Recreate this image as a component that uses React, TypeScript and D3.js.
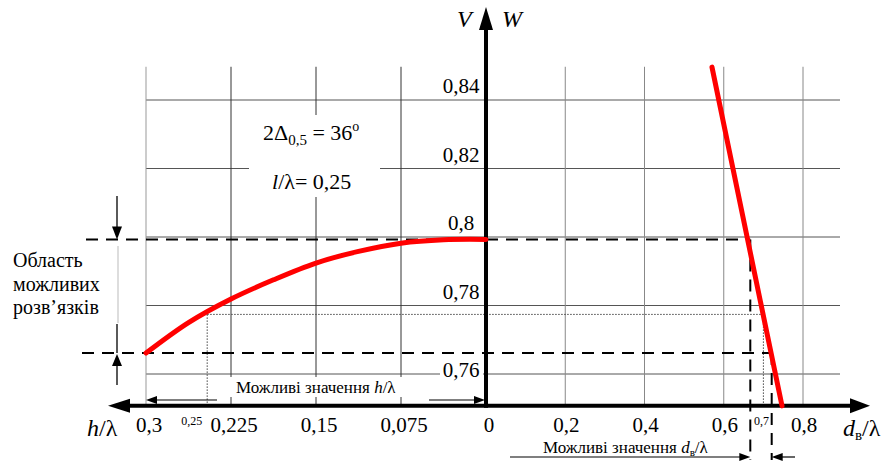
import React from "react";
import * as d3 from "d3";

// ---- data ----
const hTicks = [0.3, 0.225, 0.15, 0.075, 0];
const hTickLabels = ["0,3", "0,225", "0,15", "0,075", "0"];
const dTicks = [0.2, 0.4, 0.6, 0.8];
const dTickLabels = ["0,2", "0,4", "0,6", "0,8"];
const vTicks = [0.76, 0.78, 0.8, 0.82, 0.84];
const vTickLabels = ["0,76", "0,78", "0,8", "0,82", "0,84"];

// V(h/λ) curve
const curveH = [0, 0.0375, 0.075, 0.1125, 0.15, 0.1875, 0.225, 0.2625, 0.3];
const curveV = [0.7993, 0.7992, 0.7982, 0.7958, 0.7924, 0.7875, 0.7819, 0.775, 0.7661];

// W(dв/λ) line
const lineD = [0.5703, 0.747];
const lineW = [0.8496, 0.7507];

// markers
const vMax = 0.7993;
const vMin = 0.7661;
const dAtMax = 0.667;
const dAtMin = 0.721;
const hMark = 0.246;
const vMark = 0.7774;
const dMark = 0.7;
const axisValue = 0.7507;
const gridTopValue = 0.8497;

const FONT = "Liberation Serif, Tinos, Times New Roman, DejaVu Serif, serif";

export default function App() {
  const W = 882;
  const H = 463;
  const y = d3.scaleLinear().domain([0.76, 0.84]).range([374, 100]);
  const xh = d3.scaleLinear().domain([0, 0.3]).range([486, 146]);
  const xd = d3.scaleLinear().domain([0, 0.8]).range([486, 803]);

  const axisY = y(axisValue);
  const gridTop = y(gridTopValue);
  const x0 = xh(0);
  const gridRight = 840;

  const curvePts: [number, number][] = curveH.map((h, i) => [xh(h), y(curveV[i])]);
  const curvePath = d3.line().curve(d3.curveCatmullRom)(curvePts) || "";
  const wPts: [number, number][] = lineD.map((d, i) => [xd(d), y(lineW[i])]);
  const wPath = d3.line()(wPts) || "";

  const yMax = y(vMax);
  const yMin = y(vMin);
  const yMark = y(vMark);
  const xUp = xd(dAtMax);
  const xLo = xd(dAtMin);
  const xhMark = xh(hMark);
  const xdMark = xd(dMark);

  const dash = "12,8";
  const dot = "1.5,1.5";

  const tri = (tx: number, ty: number, dir: string, len: number, half: number) => {
    let p = "";
    if (dir === "left") p = `M${tx},${ty} L${tx + len},${ty - half} L${tx + len},${ty + half} Z`;
    if (dir === "right") p = `M${tx},${ty} L${tx - len},${ty - half} L${tx - len},${ty + half} Z`;
    if (dir === "up") p = `M${tx},${ty} L${tx - half},${ty + len} L${tx + half},${ty + len} Z`;
    if (dir === "down") p = `M${tx},${ty} L${tx - half},${ty - len} L${tx + half},${ty - len} Z`;
    return <path d={p} fill="#000" />;
  };

  const ts: React.CSSProperties = { fontFamily: FONT };

  return (
    <svg
      width={W}
      height={H}
      viewBox={`0 0 ${W} ${H}`}
      style={{ position: "absolute", left: 0, top: 0, background: "#fff", fontFamily: FONT }}
    >
      <rect x={0} y={0} width={W} height={H} fill="#fff" />

      {/* horizontal grid */}
      {vTicks.map((v) => (
        <line key={"hg" + v} x1={xh(0.3)} x2={gridRight} y1={y(v)} y2={y(v)} stroke="#555" strokeWidth={1} />
      ))}
      {/* vertical grid left */}
      {hTicks.filter((h) => h > 0).map((h) => (
        <line
          key={"vgl" + h}
          x1={xh(h)}
          x2={xh(h)}
          y1={gridTop}
          y2={axisY}
          stroke={h === 0.3 ? "#999" : "#333"}
          strokeWidth={1}
        />
      ))}
      {/* vertical grid right */}
      {dTicks.map((d) => (
        <line key={"vgr" + d} x1={xd(d)} x2={xd(d)} y1={gridTop} y2={axisY} stroke="#888" strokeWidth={1} />
      ))}

      {/* white box behind formula */}
      <rect x={249} y={115} width={131} height={82} fill="#fff" />
      <text x={263} y={140} fontSize={22} style={ts}>
        2Δ<tspan fontSize={15} dy={5}>0,5</tspan>
        <tspan dy={-5}> = 36</tspan>
        <tspan fontSize={14} dy={-9}>o</tspan>
      </text>
      <text x={272} y={189} fontSize={22} style={ts}>
        <tspan fontStyle="italic">l</tspan>/λ= 0,25
      </text>

      {/* white box behind bottom-left annotation */}
      <rect x={150} y={377} width={332} height={20} fill="#fff" />
      <text x={236} y={393} fontSize={17} style={ts}>
        Можливі значення <tspan fontStyle="italic">h</tspan>/λ
      </text>

      {/* y tick labels */}
      {vTicks.map((v, i) => {
        const by = i === 0 ? y(v) + 3 : y(v) - 7;
        return (
          <g key={"yl" + v}>
            <rect x={440} y={by - 15} width={43} height={18} fill="#fff" />
            <text x={461} y={by} fontSize={21} textAnchor="middle" style={ts}>
              {vTickLabels[i]}
            </text>
          </g>
        );
      })}

      {/* dotted marker lines */}
      <line x1={xhMark} x2={xdMark} y1={yMark} y2={yMark} stroke="#444" strokeWidth={1} strokeDasharray={dot} />
      <line x1={xhMark} x2={xhMark} y1={yMark} y2={axisY} stroke="#444" strokeWidth={1} strokeDasharray={dot} />
      <line x1={xdMark} x2={xdMark} y1={yMark} y2={axisY} stroke="#444" strokeWidth={1} strokeDasharray={dot} />

      {/* dashed lines */}
      <line x1={86} x2={xUp} y1={yMax} y2={yMax} stroke="#000" strokeWidth={2} strokeDasharray={dash} />
      <line x1={82} x2={xLo} y1={yMin} y2={yMin} stroke="#000" strokeWidth={2} strokeDasharray={dash} />
      <line x1={xUp} x2={xUp} y1={yMax} y2={460} stroke="#000" strokeWidth={2} strokeDasharray={dash} />
      <line x1={xLo} x2={xLo} y1={yMin} y2={460} stroke="#000" strokeWidth={2} strokeDasharray={dash} />

      {/* axes */}
      <line x1={125} x2={855} y1={axisY} y2={axisY} stroke="#000" strokeWidth={4} />
      {tri(108, axisY, "left", 22, 7)}
      {tri(870, axisY, "right", 20, 7.5)}
      <line x1={x0} x2={x0} y1={axisY + 2} y2={26} stroke="#000" strokeWidth={4} />
      {tri(x0, 7, "up", 23, 7)}

      {/* red curves */}
      <path d={curvePath} fill="none" stroke="#ff0000" strokeWidth={5} strokeLinecap="round" />
      <path d={wPath} fill="none" stroke="#ff0000" strokeWidth={5} strokeLinecap="round" />

      {/* axis titles */}
      <text x={457} y={27} fontSize={24} fontStyle="italic" style={ts}>V</text>
      <text x={502} y={27} fontSize={24} fontStyle="italic" style={ts}>W</text>
      <text x={87} y={436} fontSize={24} style={ts}>
        <tspan fontStyle="italic">h</tspan>/λ
      </text>
      <text x={843} y={436} fontSize={24} style={ts}>
        <tspan fontStyle="italic">d</tspan>
        <tspan fontSize={15} dy={4}>в</tspan>
        <tspan dy={-4}>/λ</tspan>
      </text>

      {/* x tick labels */}
      {hTicks.map((h, i) => (
        <text key={"xl" + h} x={xh(h) + 3} y={432} fontSize={21} textAnchor="middle" style={ts}>
          {hTickLabels[i]}
        </text>
      ))}
      {dTicks.map((d, i) => (
        <text key={"dl" + d} x={xd(d) + 1} y={432} fontSize={21} textAnchor="middle" style={ts}>
          {dTickLabels[i]}
        </text>
      ))}
      <text x={xh(0.25) - 11} y={425} fontSize={12} textAnchor="middle" style={ts}>0,25</text>
      <text x={xdMark - 2} y={425} fontSize={12} textAnchor="middle" style={ts}>0,7</text>

      {/* bottom-left arrows */}
      <line x1={150} x2={217} y1={400} y2={400} stroke="#000" strokeWidth={1.2} />
      {tri(xh(0.3), 400, "left", 11, 4)}
      <line x1={429} x2={x0 - 6} y1={400} y2={400} stroke="#000" strokeWidth={1.2} />
      {tri(x0 - 1, 400, "right", 11, 4)}

      {/* bottom-right annotation */}
      <text x={543} y={453} fontSize={17} style={ts}>
        Можливі значення <tspan fontStyle="italic">d</tspan>
        <tspan fontSize={11} dy={3}>в</tspan>
        <tspan dy={-3}>/λ</tspan>
      </text>
      <line x1={510} x2={xUp - 6} y1={457} y2={457} stroke="#000" strokeWidth={1.2} />
      {tri(xUp, 457, "right", 11, 4)}
      <line x1={xLo + 6} x2={795} y1={457} y2={457} stroke="#000" strokeWidth={1.2} />
      {tri(xLo, 457, "left", 11, 4)}

      {/* left annotation */}
      <line x1={117} x2={117} y1={196} y2={yMax - 6} stroke="#000" strokeWidth={1.3} />
      {tri(117, yMax, "down", 13, 5)}
      <line x1={118} x2={118} y1={246} y2={323} stroke="#bbb" strokeWidth={1} />
      <line x1={117} x2={117} y1={324} y2={yMin} stroke="#000" strokeWidth={1.3} />
      <line x1={117} x2={117} y1={yMin + 6} y2={385} stroke="#000" strokeWidth={1.3} />
      {tri(117, yMin + 1, "up", 12, 5)}
      <text x={13} y={267} fontSize={20} style={ts}>Область</text>
      <text x={13} y={291} fontSize={20} style={ts}>можливих</text>
      <text x={13} y={314} fontSize={20} style={ts}>розв’язків</text>
    </svg>
  );
}
